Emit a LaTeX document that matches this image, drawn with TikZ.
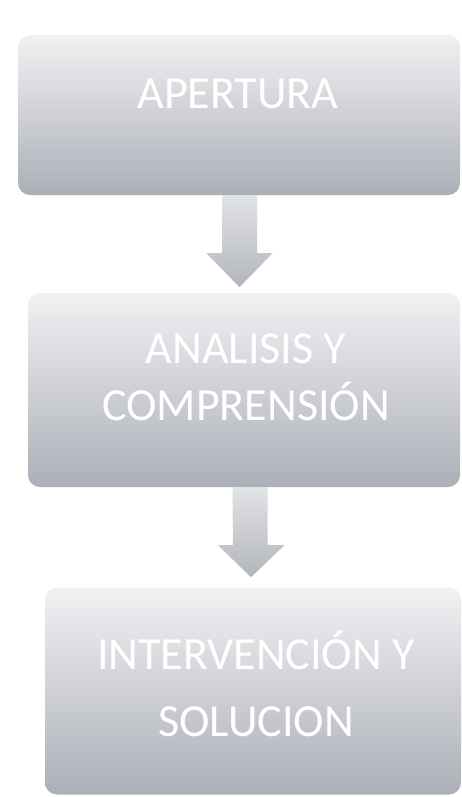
\documentclass[tikz,border=0pt]{standalone}
\usepackage{fontspec}
\setmainfont{Carlito}
\usetikzlibrary{calc}
\definecolor{boxtop}{HTML}{F1F1F3}
\definecolor{boxmid}{HTML}{D3D5DA}
\definecolor{boxbot}{HTML}{ABAFB7}
\definecolor{arrtop}{HTML}{E2E3E7}
\definecolor{arrbot}{HTML}{B2B5BC}
\tikzset{
  stagebox/.style={rectangle, rounded corners=12pt, inner sep=0pt,
    top color=boxtop, middle color=boxmid, bottom color=boxbot, draw=none},
  stagetext/.style={text=white, font=\fontsize{46}{57}\selectfont, align=center, inner sep=0pt},
  blockarrow/.style={top color=arrtop, bottom color=arrbot, draw=none}
}
\begin{document}
\begin{tikzpicture}[x=1pt,y=-1pt]
\useasboundingbox (0,0) rectangle (461,797);
\fill[white] (0,0) rectangle (461,797);
% boxes
\node[stagebox, minimum width=442pt, minimum height=160pt] (b1) at (239,115) {};
\node[stagebox, minimum width=432pt, minimum height=194pt] (b2) at (244,390) {};
\node[stagebox, minimum width=416pt, minimum height=207pt] (b3) at (253,691) {};
% texts
\node[stagetext] (t1) at (238,94) {APERTURA};
\node[stagetext] (t2) at (246,377) {ANALISIS Y\\COMPRENSIÓN};
\node[stagetext, font=\fontsize{46}{67}\selectfont] (t3) at (256,684) {INTERVENCIÓN Y\\SOLUCION};
% arrows
\coordinate (a1) at (239.5,0);
\path[blockarrow] ($(a1|-b1.south)+(-17.5,0)$) -- ++(35,0) -- ++(0,58) -- ++(15.5,0)
  -- ($(a1|-b1.south)+(0,92)$) -- ++(-33,-34) -- ++(15.5,0) -- cycle;
\coordinate (a2) at (250,0);
\path[blockarrow] ($(a2|-b2.south)+(-17.5,0)$) -- ++(35,0) -- ++(0,58) -- ++(17,0)
  -- ($(a2|-b2.south)+(1,90)$) -- ++(-33,-32) -- ++(15,0) -- cycle;
\end{tikzpicture}
\end{document}
